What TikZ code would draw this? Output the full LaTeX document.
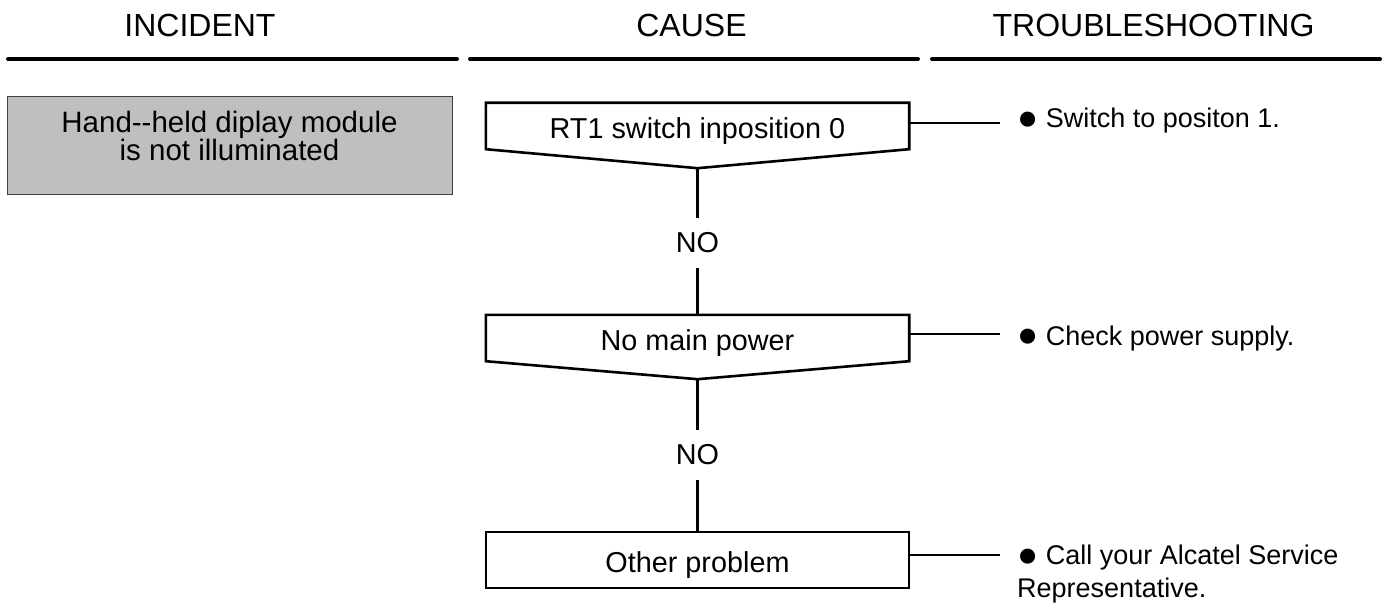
\documentclass[tikz,border=0pt]{standalone}
\usepackage{fontspec}
\setmainfont{Liberation Sans}
\newcommand{\bigbul}{\raisebox{-1.5pt}{\fontsize{35}{35}\selectfont ●}}
\begin{document}
\begin{tikzpicture}[x=1pt,y=-1pt,
  hdr/.style={font=\fontsize{32}{36}\selectfont, inner sep=0pt, anchor=base},
  hline/.style={line width=4pt, line cap=round},
  causebox/.style={font=\fontsize{28.8}{32}\selectfont, minimum width=423pt, inner sep=0pt, text height=24pt, text depth=0pt},
  shapeline/.style={line width=2.6pt, line join=miter},
  conn/.style={line width=2.3pt},
  nolabel/.style={font=\fontsize{28.8}{32}\selectfont, inner sep=0pt, minimum height=50pt},
  tstext/.style={font=\fontsize{27}{33}\selectfont, inner sep=0pt, align=left},
  incbox/.style={draw=black!75, line width=0.9pt, fill=black!25, minimum width=445pt, minimum height=98pt, inner sep=0pt}
]
\useasboundingbox (0,0) rectangle (1388,607);
% headers
\node[hdr] (hinc) at (200,37) {INCIDENT};
\node[hdr] (hcau) at (691.5,37) {CAUSE};
\node[hdr] (hts) at (1153.5,37) {TROUBLESHOOTING};
\draw[hline] (8,59) -- (457,59);
\draw[hline] (470,59) -- (918,59);
\draw[hline] (932,59) -- (1380,59);
% incident
\node[incbox] (inc) at (229.5,145) {};
\node[font=\fontsize{29.5}{26.5}\selectfont, align=center, inner sep=0pt] (inctext) at (229.5,136) {Hand-{}-held diplay module\\is not illuminated};
% cause boxes
\node[causebox, minimum height=46pt] (c1) at (697.5,126) {RT1 switch inposition 0};
\draw[shapeline] (c1.north west) -- (c1.north east) -- (c1.south east) -- ([yshift=-19pt]c1.south) coordinate (c1p) -- (c1.south west) -- cycle;
\node[nolabel] (n1) at (697.5,243) {NO};
\node[causebox, minimum height=46pt] (c2) at (697.5,338) {No main power};
\draw[shapeline] (c2.north west) -- (c2.north east) -- (c2.south east) -- ([yshift=-18pt]c2.south) coordinate (c2p) -- (c2.south west) -- cycle;
\node[nolabel] (n2) at (697.5,455) {NO};
\node[causebox, draw, line width=2.6pt, minimum height=56pt] (c3) at (697.5,560) {Other problem};
\draw[conn] (c1p) -- (n1.north);
\draw[conn] (n1.south) -- (c2.north);
\draw[conn] (c2p) -- (n2.north);
\draw[conn] (n2.south) -- (c3.north);
% troubleshooting
\coordinate (e1) at (1000,123);
\coordinate (e2) at (1000,334);
\coordinate (e3) at (1000,555);
\draw[conn] (c1.east |- e1) -- (e1);
\draw[conn] (c2.east |- e2) -- (e2);
\draw[conn] (c3.east |- e3) -- (e3);
\node[tstext, anchor=base west] (t1) at (1017,128) {\bigbul{} Switch to positon 1.};
\node[tstext, anchor=base west] (t2) at (1017,345) {\bigbul{} Check power supply.};
\node[tstext, anchor=north west] (t3) at (1017,545) {\bigbul{} Call your Alcatel Service\\Representative.};
\end{tikzpicture}
\end{document}
